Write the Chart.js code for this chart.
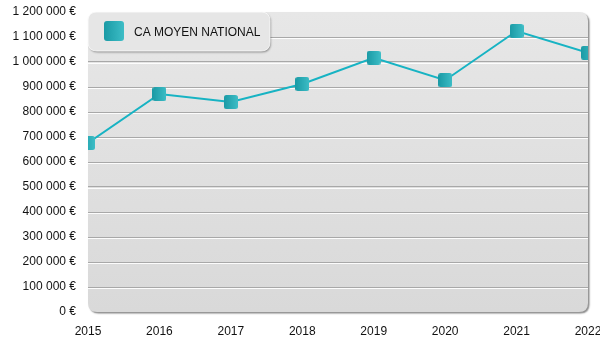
<!DOCTYPE html>
<html lang="fr">
<head>
<meta charset="utf-8">
<title>CA moyen national</title>
<script src="https://cdn.jsdelivr.net/npm/chart.js@4/dist/chart.umd.min.js"></script>
<style>
  html, body { margin: 0; padding: 0; background: #fff; overflow: hidden; }
  #wrap { width: 600px; height: 350px; }
</style>
</head>
<body>
<div id="wrap"><canvas id="caChart" width="600" height="350"></canvas></div>
<script>
'use strict'

// Données
const years = ['2015', '2016', '2017', '2018', '2019', '2020', '2021', '2022'];
const caMoyen = [676000, 872000, 840000, 912000, 1017000, 927000, 1124000, 1037000];
const seriesLabel = 'CA MOYEN NATIONAL';
const yMin = 0;
const yMax = 1200000;
const yStep = 100000;

// Format "1 200 000 €"
function euro(v) {
    return String(v).replace(/\B(?=(\d{3})+(?!\d))/g, ' ') + ' €';
}

function roundRect(c, x, y, w, h, r) {
    c.beginPath();
    c.moveTo(x + r, y);
    c.lineTo(x + w - r, y);
    c.quadraticCurveTo(x + w, y, x + w, y + r);
    c.lineTo(x + w, y + h - r);
    c.quadraticCurveTo(x + w, y + h, x + w - r, y + h);
    c.lineTo(x + r, y + h);
    c.quadraticCurveTo(x, y + h, x, y + h - r);
    c.lineTo(x, y + r);
    c.quadraticCurveTo(x, y, x + r, y);
    c.closePath();
}

// Carré dégradé pour les points / la légende
function makeSquare(size, radius) {
    const cv = document.createElement('canvas');
    cv.width = size;
    cv.height = size;
    const c = cv.getContext('2d');
    const g = c.createLinearGradient(0, 0, size, 0);
    g.addColorStop(0, '#1a9aa5');
    g.addColorStop(1, '#3dbdc6');
    c.fillStyle = g;
    roundRect(c, 0, 0, size, size, radius);
    c.fill();
    return cv;
}
const markerImg = makeSquare(14, 2.5);
const legendImg = makeSquare(20, 3);

// Fond de la zone du graphique + lignes en relief
const plotBackground = {
    id: 'plotBackground',
    beforeDraw(chart) {
        const { ctx, chartArea: a } = chart;
        ctx.save();
        ctx.shadowColor = 'rgba(0,0,0,0.45)';
        ctx.shadowOffsetX = 1.5;
        ctx.shadowOffsetY = 1.5;
        ctx.shadowBlur = 1.5;
        const g = ctx.createLinearGradient(0, a.top, 0, a.bottom);
        g.addColorStop(0, '#e7e7e7');
        g.addColorStop(1, '#d9d9d9');
        ctx.fillStyle = g;
        roundRect(ctx, a.left, a.top, a.right - a.left, a.bottom - a.top, 9);
        ctx.fill();
        ctx.restore();
    },
    beforeDatasetsDraw(chart) {
        const { ctx, chartArea: a, scales } = chart;
        ctx.save();
        ctx.strokeStyle = 'rgba(255,255,255,0.9)';
        ctx.lineWidth = 1;
        scales.y.ticks.forEach(t => {
            if (t.value <= yMin || t.value >= yMax) return;
            const y = Math.round(scales.y.getPixelForValue(t.value)) + 1.5;
            ctx.beginPath();
            ctx.moveTo(a.left, y);
            ctx.lineTo(a.right, y);
            ctx.stroke();
        });
        // Légende
        const x = a.left, y = a.top, w = 182, h = 39;
        ctx.shadowColor = 'rgba(0,0,0,0.35)';
        ctx.shadowOffsetX = 1;
        ctx.shadowOffsetY = 1.5;
        ctx.shadowBlur = 2;
        ctx.fillStyle = '#e6e6e6';
        roundRect(ctx, x, y, w, h, 9);
        ctx.fill();
        ctx.shadowColor = 'transparent';
        ctx.strokeStyle = 'rgba(255,255,255,0.7)';
        ctx.stroke();
        ctx.drawImage(legendImg, x + 16, y + 9);
        ctx.fillStyle = '#111';
        ctx.font = '12px "Liberation Sans", Arial, sans-serif';
        ctx.textBaseline = 'middle';
        ctx.fillText(chart.data.datasets[0].label, x + 46, y + 21);
        ctx.restore();
    }
};

const ctx = document.getElementById('caChart').getContext('2d');
const caChart = new Chart(ctx, {
    type: 'line',
    data: {
        labels: years,
        datasets: [{
            label: seriesLabel,
            data: caMoyen,
            borderColor: '#17b3c3',
            borderWidth: 2,
            tension: 0,
            clip: 0,
            pointStyle: markerImg,
            pointRadius: 7,
            pointHoverRadius: 7
        }]
    },
    options: {
        responsive: false,
        animation: false,
        layout: {
            padding: { top: 12, right: 12, bottom: 11, left: 0 }
        },
        plugins: {
            legend: { display: false },
            tooltip: { enabled: false }
        },
        scales: {
            x: {
                offset: false,
                afterFit(scale) {
                    scale.paddingLeft = 0;
                    scale.paddingRight = 0;
                    scale.height = 27;
                },
                grid: { display: false, drawTicks: false },
                border: { display: false },
                ticks: {
                    color: '#111',
                    padding: 12,
                    maxRotation: 0,
                    autoSkip: false,
                    font: { family: '"Liberation Sans", Arial, sans-serif', size: 12 }
                }
            },
            y: {
                min: yMin,
                max: yMax,
                afterFit(scale) {
                    scale.width = 88;
                    scale.paddingTop = 0;
                    scale.paddingBottom = 0;
                },
                grid: {
                    drawTicks: false,
                    color: c => (c.tick && (c.tick.value <= yMin || c.tick.value >= yMax)) ? 'rgba(0,0,0,0)' : '#a8a8a8'
                },
                border: { display: false },
                ticks: {
                    stepSize: yStep,
                    color: '#111',
                    padding: 12,
                    font: { family: '"Liberation Sans", Arial, sans-serif', size: 12 },
                    callback: v => euro(v)
                }
            }
        }
    },
    plugins: [plotBackground]
});
</script>
</body>
</html>
